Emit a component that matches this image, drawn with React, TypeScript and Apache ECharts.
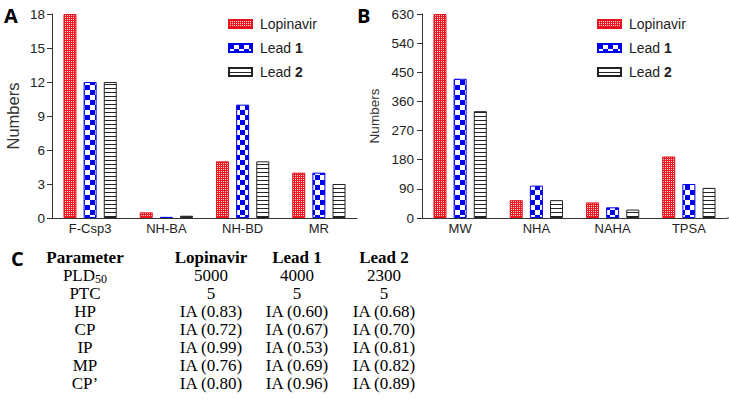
import React, { useEffect, useRef } from 'react';
import * as echarts from 'echarts';

const seriesNames = ['Lopinavir', 'Lead 1', 'Lead 2'];

const categoriesA = ['F-Csp3', 'NH-BA', 'NH-BD', 'MR'];
const lopinavirA = [18, 0.5, 5, 4];
const lead1A = [12, 0.1, 10, 4];
const lead2A = [12, 0.2, 5, 3];
const yMaxA = 18;
const yStepA = 3;

const categoriesB = ['MW', 'NHA', 'NAHA', 'TPSA'];
const lopinavirB = [630, 55, 48, 190];
const lead1B = [430, 100, 33, 105];
const lead2B = [330, 55, 26, 93];
const yMaxB = 630;
const yStepB = 90;

const tableHeader = ['Parameter', 'Lopinavir', 'Lead 1', 'Lead 2'];
const tableParams = ['PLD50', 'PTC', 'HP', 'CP', 'IP', 'MP', 'CP\u2019'];
const tableLopinavir = ['5000', '5', 'IA (0.83)', 'IA (0.72)', 'IA (0.99)', 'IA (0.76)', 'IA (0.80)'];
const tableLead1 = ['4000', '5', 'IA (0.60)', 'IA (0.67)', 'IA (0.53)', 'IA (0.69)', 'IA (0.96)'];
const tableLead2 = ['2300', '5', 'IA (0.68)', 'IA (0.70)', 'IA (0.81)', 'IA (0.82)', 'IA (0.89)'];

const SANS = '"Liberation Sans", Arial, sans-serif';
const SERIF = '"Liberation Serif", "Times New Roman", serif';

function makePattern(w: number, h: number, draw: (ctx: CanvasRenderingContext2D) => void) {
  const c = document.createElement('canvas');
  c.width = w;
  c.height = h;
  const ctx = c.getContext('2d') as CanvasRenderingContext2D;
  draw(ctx);
  return { image: c.toDataURL(), repeat: 'repeat', imageWidth: w, imageHeight: h };
}

export default function App() {
  const ref = useRef<HTMLDivElement>(null);

  useEffect(() => {
    if (!ref.current) return;
    const chart = echarts.init(ref.current, null, { renderer: 'svg' });

    const redPattern = makePattern(2, 2, (ctx) => {
      ctx.fillStyle = '#f01822';
      ctx.fillRect(0, 0, 2, 2);
      ctx.fillStyle = '#ffd6d6';
      ctx.fillRect(1, 1, 1, 1);
    });
    const bluePattern = makePattern(10, 10, (ctx) => {
      ctx.fillStyle = '#ffffff';
      ctx.fillRect(0, 0, 10, 10);
      ctx.fillStyle = '#0000f0';
      ctx.fillRect(0, 0, 5, 5);
      ctx.fillRect(5, 5, 5, 5);
    });
    const stripePattern = makePattern(4, 4, (ctx) => {
      ctx.fillStyle = '#ffffff';
      ctx.fillRect(0, 0, 4, 4);
      ctx.fillStyle = '#222222';
      ctx.fillRect(0, 0, 4, 1);
    });

    const styles = [
      { color: redPattern, borderColor: '#e8101a', borderWidth: 1 },
      { color: bluePattern, borderColor: '#0000f0', borderWidth: 1 },
      { color: stripePattern, borderColor: '#222222', borderWidth: 1 },
    ];
    const dataA = [lopinavirA, lead1A, lead2A];
    const dataB = [lopinavirB, lead1B, lead2B];

    const legendFormatter = (name: string) => {
      const m = name.match(/^(Lead) (\d)$/);
      return m ? `${m[1]} {b|${m[2]}}` : name;
    };
    const legendBase = (left: number) => ({
      left,
      top: 11,
      orient: 'vertical',
      icon: 'rect',
      itemWidth: 23,
      itemHeight: 8,
      itemGap: 8,
      selectedMode: false,
      data: seriesNames,
      formatter: legendFormatter,
      textStyle: {
        fontFamily: SANS,
        fontSize: 14,
        color: '#222',
        lineHeight: 16,
        padding: [0, 0, 0, 3],
        rich: { b: { fontFamily: SANS, fontSize: 14, fontWeight: 'bold', color: '#222', lineHeight: 16 } },
      },
    });

    const xAxisBase = (gridIndex: number, data: string[]) => ({
      type: 'category',
      gridIndex,
      data,
      axisLine: { lineStyle: { color: '#333', width: 1 } },
      axisTick: { show: false },
      axisLabel: { fontFamily: SANS, fontSize: 13, color: '#222', margin: 4 },
    });
    const yAxisBase = (gridIndex: number, max: number, interval: number, nameSize: number, nameGap: number, margin: number) => ({
      type: 'value',
      gridIndex,
      min: 0,
      max,
      interval,
      name: 'Numbers',
      nameLocation: 'middle',
      nameGap,
      nameTextStyle: { fontFamily: SANS, fontSize: nameSize, color: '#333' },
      axisLine: { show: true, lineStyle: { color: '#333', width: 1 } },
      axisTick: { show: true, length: 5, lineStyle: { color: '#333', width: 1 } },
      axisLabel: { fontFamily: SANS, fontSize: 13.5, color: '#222', margin },
      splitLine: { show: false },
    });

    const series: any[] = [];
    seriesNames.forEach((name, i) => {
      series.push({
        type: 'bar', name, xAxisIndex: 0, yAxisIndex: 0, data: dataA[i],
        barWidth: 13, barGap: '55%', itemStyle: styles[i],
      });
    });
    seriesNames.forEach((name, i) => {
      series.push({
        type: 'bar', name, xAxisIndex: 1, yAxisIndex: 1, data: dataB[i],
        barWidth: 13, barGap: '55%', itemStyle: styles[i],
      });
    });

    const graphics: any[] = [];
    const txt = (text: string, x: number, y: number, font: string, align = 'center') => ({
      type: 'text',
      x,
      y,
      silent: true,
      style: {
        text,
        font,
        fill: '#000',
        align,
        textAlign: align,
        verticalAlign: 'middle',
        textVerticalAlign: 'middle',
      },
    });
    graphics.push(txt('A', 4, 15, 'bold 20px "Open Sans", sans-serif', 'left'));
    graphics.push(txt('B', 357, 15, 'bold 20px "Open Sans", sans-serif', 'left'));
    graphics.push(txt('C', 11, 258, 'bold 20px "Open Sans", sans-serif', 'left'));
    // extend the x-axis line of B to the edge, as in the original
    graphics.push({
      type: 'line', silent: true,
      shape: { x1: 727, y1: 218, x2: 729, y2: 218 },
      style: { stroke: '#333', lineWidth: 1 },
    });

    const colX = [85, 211, 297, 384];
    const rowY0 = 257;
    const rowStep = 18.1;
    tableHeader.forEach((h, c) => {
      graphics.push(txt(h, colX[c], rowY0, `bold 17px ${SERIF}`));
    });
    const cols = [tableParams, tableLopinavir, tableLead1, tableLead2];
    cols.forEach((col, c) => {
      col.forEach((v, r) => {
        const y = rowY0 + rowStep * (r + 1);
        const m = v.match(/^([A-Z]+)(\d+)$/);
        if (m) {
          graphics.push(txt(m[1], colX[c] + 10, y, `17px ${SERIF}`, 'right'));
          graphics.push(txt(m[2], colX[c] + 10, y + 4, `12px ${SERIF}`, 'left'));
        } else {
          graphics.push(txt(v, colX[c], y, `17px ${SERIF}`));
        }
      });
    });

    chart.setOption({
      animation: false,
      backgroundColor: '#fff',
      grid: [
        { left: 52, top: 14, width: 305, height: 204 },
        { left: 422, top: 14, width: 305, height: 204 },
      ],
      legend: [legendBase(223), legendBase(592)],
      xAxis: [xAxisBase(0, categoriesA), xAxisBase(1, categoriesB)],
      yAxis: [
        yAxisBase(0, yMaxA, yStepA, 16.5, 31, 7),
        yAxisBase(1, yMaxB, yStepB, 13.5, 41, 8),
      ],
      series,
      graphic: graphics,
    });

    return () => chart.dispose();
  }, []);

  return <div ref={ref} style={{ width: 729, height: 408, position: 'absolute', left: 0, top: 0 }} />;
}
